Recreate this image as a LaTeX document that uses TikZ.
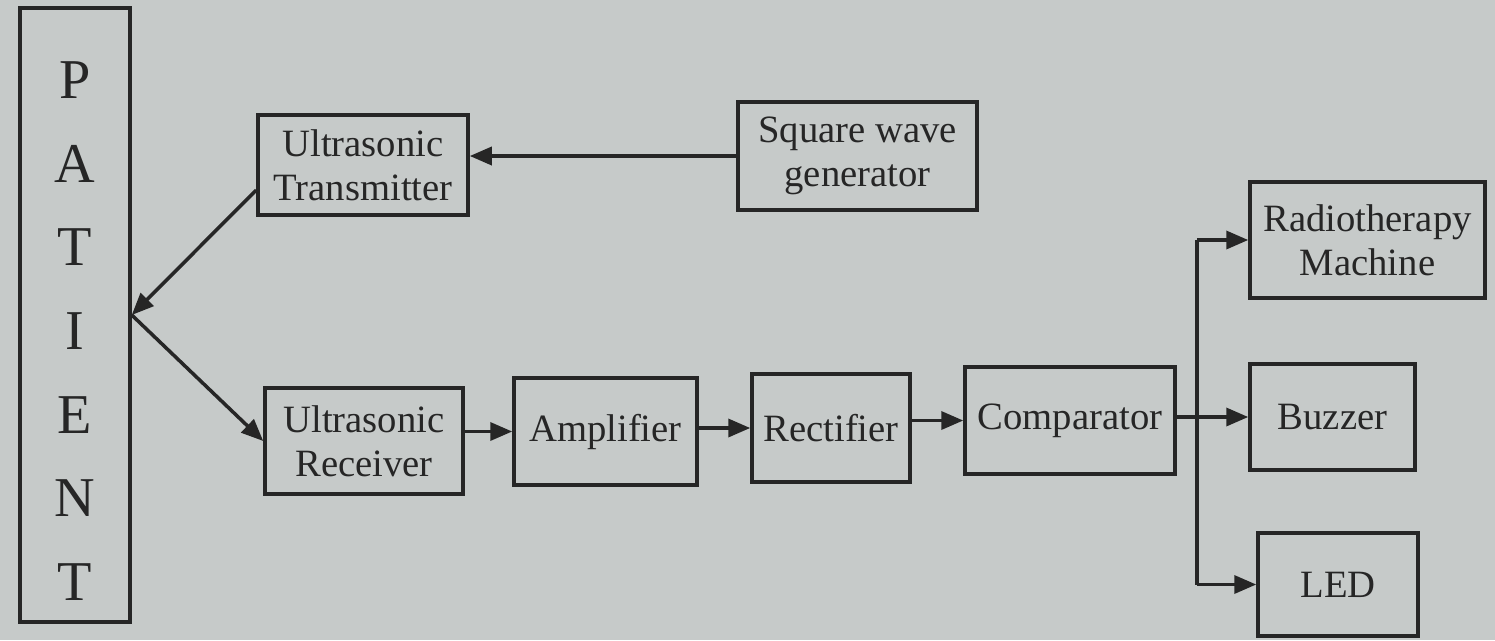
\documentclass[tikz,border=0pt]{standalone}
\usepackage{fontspec}
\setmainfont{Liberation Serif}
\usetikzlibrary{arrows.meta,calc}
\definecolor{bg}{RGB}{198,202,201}
\definecolor{ink}{RGB}{38,38,38}
\begin{document}
\begin{tikzpicture}[x=0.1mm,y=-0.1mm,
  blk/.style={draw=ink,line width=1pt,text=ink,align=center,inner sep=0pt,
    font=\fontsize{11}{12.5}\selectfont},
  arr/.style={draw=ink,line width=1pt,-{Triangle[length=2.2mm,width=1.8mm]}},
  ln/.style={draw=ink,line width=1pt}]
\fill[bg] (0,0) rectangle (1495,640);
\useasboundingbox (0,0) rectangle (1495,640);
\node[blk,minimum width=11mm,minimum height=61.4mm] (pat) at (75,315) {};
\foreach \l [count=\i from 0] in {P,A,T,I,E,N,T}
  \node[text=ink,font=\fontsize{16}{18}\selectfont] (p\i) at (75,{80+\i*83.7}) {\l};
\node[blk,minimum width=21mm,minimum height=10mm] (tx) at (363,165) {Ultrasonic\\Transmitter};
\node[blk,minimum width=23.9mm,minimum height=10.8mm] (sq) at (857.5,156) {Square wave\\generator};
\node[blk,minimum width=19.8mm,minimum height=10.6mm] (rx) at (364,441) {Ultrasonic\\Receiver};
\node[blk,minimum width=18.3mm,minimum height=10.7mm] (amp) at (605.5,431.5) {Amplifier};
\node[blk,minimum width=15.8mm,minimum height=10.8mm] (rect) at (831,428) {Rectifier};
\node[blk,minimum width=21mm,minimum height=10.7mm] (comp) at (1070,420.5) {Comparator};
\node[blk,minimum width=23.5mm,minimum height=11.6mm] (radio) at (1367.5,240) {Radiotherapy\\Machine};
\node[blk,minimum width=16.5mm,minimum height=10.6mm] (buzz) at (1332.5,417) {Buzzer};
\node[blk,minimum width=16mm,minimum height=10.3mm] (led) at (1338,584.5) {LED};
\coordinate (txo) at ($(tx.west)+(0,25)$);
\coordinate (b1) at (1197,240);
\coordinate (b2) at (led.west -| b1);
\draw[arr] (sq.west) -- (tx.east |- sq.west);
\draw[arr] (txo) -- (pat.east);
\draw[arr] (pat.east) -- (rx.west);
\draw[arr] (rx.east |- amp.west) -- (amp.west);
\draw[arr] (amp.east |- rect.west) -- (rect.west);
\draw[arr] (rect.east |- comp.west) -- (comp.west);
\draw[arr] (comp.east |- buzz.west) -- (buzz.west);
\draw[ln] (b1) -- (b2);
\draw[arr] (b1) -- (radio.west);
\draw[arr] (b2) -- (led.west);
\end{tikzpicture}
\end{document}
